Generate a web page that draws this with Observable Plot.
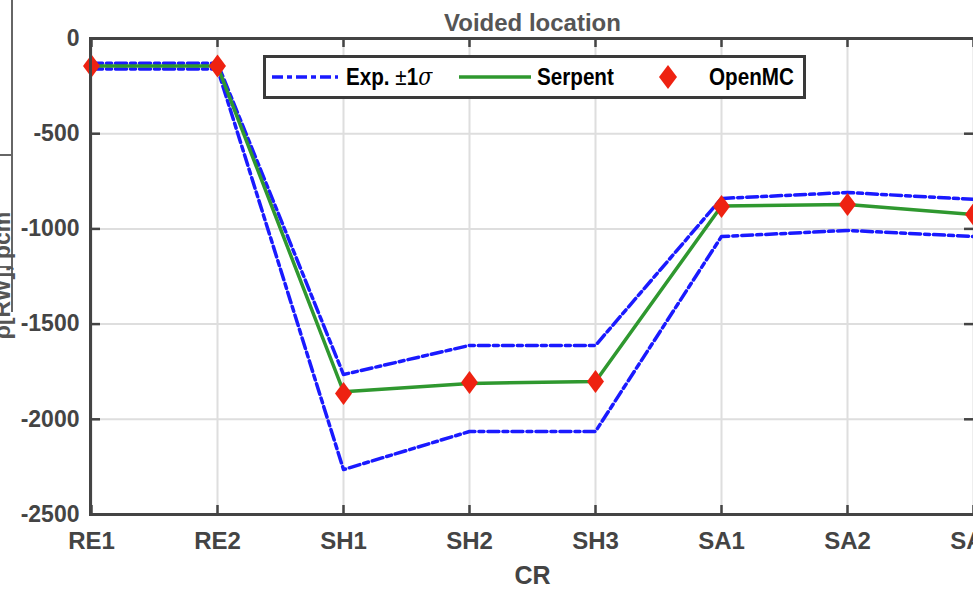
<!DOCTYPE html>
<html>
<head>
<meta charset="utf-8">
<script src="https://cdn.jsdelivr.net/npm/d3@7"></script>
<script src="https://cdn.jsdelivr.net/npm/@observablehq/plot@0.6"></script>
<style>
  html, body { margin: 0; padding: 0; background: #fff; }
  #wrap { position: relative; width: 973px; height: 590px; overflow: hidden; background: #fff;
          font-family: "Liberation Sans", Arial, sans-serif; }
  #chart svg { display: block; max-width: none; }
  #legend { position: absolute; left: 263px; top: 55px; width: 537px; height: 38px;
            border: 3px solid #3a3a3a; background: #fff; font-weight: bold; font-size: 24px; color: #000; }
  #legend .it { position: absolute; top: 0; height: 38px; line-height: 38px; white-space: nowrap;
                transform: scaleX(0.86); transform-origin: 0 50%; }
  #legend svg { position: absolute; }
  .remn { position: absolute; background: #666; }
  #ylab { position: absolute; left: -128px; top: 262px; width: 260px; text-align: center;
          transform: rotate(-90deg); transform-origin: 50% 50%; font-size: 23px; font-weight: bold; color: #555; }
</style>
</head>
<body>
<div id="wrap">
  <div id="chart"></div>
  <div class="remn" style="left:11px;top:0;width:2px;height:312px"></div>
  <div class="remn" style="left:0;top:154px;width:12px;height:2px"></div>
  <div class="remn" style="left:0;top:266px;width:12px;height:2px"></div>
  <div id="ylab">ρ[RW], pcm</div>
  <div id="legend">
    <svg style="left:4px;top:0" width="70" height="38"><line x1="2" x2="68" y1="19" y2="19" stroke="#1a1aff" stroke-width="3.5" stroke-dasharray="11,4,5,4"/></svg>
    <div class="it" style="left:80px">Exp. <span style="font-weight:normal">±</span>1<span style="font-family:'DejaVu Serif',serif;font-style:italic;font-weight:normal">σ</span></div>
    <svg style="left:193px;top:0" width="72" height="38"><line x1="0" x2="72" y1="19" y2="19" stroke="#2f982f" stroke-width="3.5"/></svg>
    <div class="it" style="left:271px">Serpent</div>
    <svg style="left:390px;top:0" width="24" height="38"><path d="M12,7 L21,19 L12,31 L3,19 Z" fill="#ee2211"/></svg>
    <div class="it" style="left:443px">OpenMC</div>
  </div>
</div>
<script>
const categories = ["RE1", "RE2", "SH1", "SH2", "SH3", "SA1", "SA2", "SA3"];
const expUpper = [-130, -130, -1765, -1612, -1612, -840, -809, -845];
const expLower = [-160, -160, -2264, -2064, -2064, -1040, -1008, -1040];
const serpent  = [-145, -145, -1855, -1812, -1801, -880, -872, -924];
const openmc   = [-145, -145, -1865, -1807, -1801, -882, -872, -924];
const yTicks = [0, -500, -1000, -1500, -2000, -2500];

const W = 978, H = 590, ML = 90, MR = 4, MT = 38, MB = 76;
const FW = W - ML - MR, FH = H - MT - MB;

const rows = (vals, series) => categories.map((c, i) => ({cat: c, v: vals[i], series}));
const expRows = [...rows(expUpper, "upper"), ...rows(expLower, "lower")];

const diamond = {
  draw(context, size) {
    const s = Math.sqrt(size / Math.PI);
    const w = s * 0.74;
    context.moveTo(0, -s); context.lineTo(w, 0); context.lineTo(0, s); context.lineTo(-w, 0); context.closePath();
  }
};

const axisColor = "#444";
const chart = Plot.plot({
  width: W, height: H,
  marginLeft: ML, marginRight: MR, marginTop: MT, marginBottom: MB,
  style: {fontFamily: "'Liberation Sans', Arial, sans-serif", fontWeight: "bold", fontSize: "23px", color: axisColor, background: "#fff", overflow: "visible"},
  x: {type: "point", domain: categories, padding: 0},
  y: {domain: [-2500, 0]},
  marks: [
    Plot.ruleX(categories, {stroke: "#dedede", strokeWidth: 2}),
    Plot.ruleY(yTicks, {stroke: "#dedede", strokeWidth: 2}),
    Plot.line(expRows, {x: "cat", y: "v", z: "series", stroke: "#1a1aff", strokeWidth: 3.5, strokeDasharray: "11,4,5,4"}),
    Plot.line(rows(serpent, "s"), {x: "cat", y: "v", stroke: "#2f982f", strokeWidth: 3.5}),
    Plot.dot(rows(openmc, "o"), {x: "cat", y: "v", symbol: diamond, r: 11.5, fill: "#ee2211", stroke: "none"}),
    Plot.frame({stroke: axisColor, strokeWidth: 3}),
    Plot.ruleY(yTicks, {stroke: axisColor, strokeWidth: 2.5, insetRight: FW - 10}),
    Plot.ruleY(yTicks, {stroke: axisColor, strokeWidth: 2.5, insetLeft: FW - 10}),
    Plot.ruleX(categories, {stroke: axisColor, strokeWidth: 2.5, insetTop: FH - 9}),
    Plot.ruleX(categories, {stroke: axisColor, strokeWidth: 2.5, insetBottom: FH - 9}),
    Plot.axisY(yTicks, {tickSize: 0, tickPadding: 11, tickFormat: d => String(d), fontSize: 23, fill: axisColor, label: null}),
    Plot.axisX(categories, {tickSize: 0, tickPadding: 17, fontSize: 24, fill: axisColor, label: null}),
    Plot.text(["CR"], {frameAnchor: "bottom", lineAnchor: "top", dy: 52, fontSize: 25, fill: axisColor}),
    Plot.text(["Voided location"], {frameAnchor: "top", lineAnchor: "bottom", dy: -8, fontSize: 24, fill: "#555"})
  ]
});
document.getElementById("chart").appendChild(chart);
</script>
</body>
</html>
